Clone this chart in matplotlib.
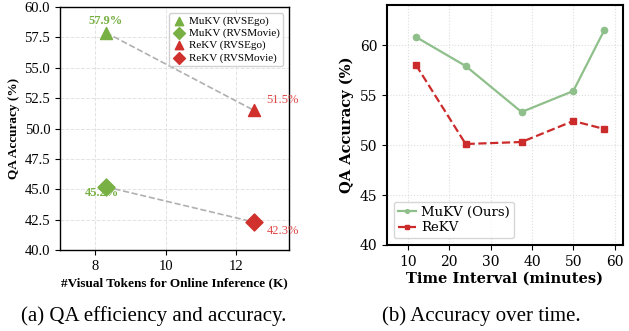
import matplotlib.pyplot as plt

# painel (a)
tokens = [8.3, 12.5]
acc_ego = [57.9, 51.5]
acc_movie = [45.2, 42.3]
metodos = ["MuKV", "ReKV"]

# painel (b)
tempo = [12, 24, 37.5, 50, 57.5]
acc_mukv = [60.8, 57.9, 53.3, 55.4, 61.5]
acc_rekv = [58.0, 50.1, 50.3, 52.4, 51.6]

verde = "#78b044"
vermelho = "#d0312d"
verde_b = "#8fbf8a"
vermelho_b = "#cc2b2b"

fig = plt.figure(figsize=(6.29, 3.31), dpi=100)
W, H = 629, 331

# ---------- (a) ----------
ax1 = fig.add_axes([60 / W, 1 - 250 / H, 229 / W, 243 / H])
serif = "Liberation Serif"
ax1.plot(tokens, acc_ego, ls="--", color="#b0b0b0", lw=1.2, zorder=1)
ax1.plot(tokens, acc_movie, ls="--", color="#b0b0b0", lw=1.2, zorder=1)
cores = [verde, vermelho]
for i, m in enumerate(metodos):
    ax1.scatter(tokens[i], acc_ego[i], marker="^", s=75, color=cores[i],
                label=f"{m} (RVSEgo)", zorder=3)
for i, m in enumerate(metodos):
    ax1.scatter(tokens[i], acc_movie[i], marker="D", s=75, color=cores[i],
                label=f"{m} (RVSMovie)", zorder=3)
# reordena legenda: MuKV ego, MuKV movie, ReKV ego, ReKV movie
h, l = ax1.get_legend_handles_labels()
ordem = [0, 2, 1, 3]
ax1.legend([h[k] for k in ordem], [l[k] for k in ordem], loc="upper right",
           prop={"family": serif, "size": 8}, handletextpad=0.3,
           borderpad=0.3, labelspacing=0.2, handlelength=1.2,
           markerscale=0.7, framealpha=0.9)

ax1.annotate(f"{acc_ego[0]}%", (tokens[0], acc_ego[0]), xytext=(0, 4),
             textcoords="offset points", ha="center", va="bottom",
             color=verde, fontsize=9, fontweight="bold", family=serif)
ax1.annotate(f"{acc_movie[0]}%", (tokens[0], acc_movie[0]), xytext=(-3, 0),
             textcoords="offset points", ha="center", va="top",
             color=verde, fontsize=9, fontweight="bold", family=serif)
ax1.annotate(f"{acc_ego[1]}%", (tokens[1], acc_ego[1]), xytext=(9, 3),
             textcoords="offset points", ha="left", va="bottom",
             color="#e04848", fontsize=9, family=serif)
ax1.annotate(f"{acc_movie[1]}%", (tokens[1], acc_movie[1]), xytext=(9, -2),
             textcoords="offset points", ha="left", va="top",
             color="#e04848", fontsize=9, family=serif)

ax1.set_xlim(7, 13.5)
ax1.set_ylim(40, 60)
ax1.set_xticks([8, 10, 12])
ax1.set_yticks([40, 42.5, 45, 47.5, 50, 52.5, 55, 57.5, 60])
ax1.set_yticklabels([f"{v:.1f}" for v in ax1.get_yticks()])
ax1.grid(True, ls="--", color="#e3e3e3", lw=0.7)
ax1.set_axisbelow(True)
for lab in ax1.get_xticklabels() + ax1.get_yticklabels():
    lab.set_family(serif)
    lab.set_fontsize(10.5)
ax1.set_xlabel("#Visual Tokens for Online Inference (K)", family=serif,
               fontsize=9.5, fontweight="bold", labelpad=3)
ax1.set_ylabel("QA Accuracy (%)", family=serif, fontsize=9.5,
               fontweight="bold", labelpad=3)
for s in ax1.spines.values():
    s.set_linewidth(1.0)

# ---------- (b) ----------
ax2 = fig.add_axes([387 / W, 1 - 245 / H, 236 / W, 240 / H])
dserif = "DejaVu Serif"
ax2.plot(tempo, acc_mukv, "-o", color=verde_b, lw=1.6, ms=4.5, label="MuKV (Ours)")
ax2.plot(tempo, acc_rekv, "--s", color=vermelho_b, lw=1.6, ms=4.5, label="ReKV")
ax2.set_xlim(5, 62)
ax2.set_ylim(40, 64)
ax2.set_xticks([10, 20, 30, 40, 50, 60])
ax2.set_yticks([40, 45, 50, 55, 60])
ax2.grid(True, ls=":", color="#dddddd", lw=0.8)
ax2.set_axisbelow(True)
for lab in ax2.get_xticklabels() + ax2.get_yticklabels():
    lab.set_family(dserif)
    lab.set_fontsize(10)
ax2.set_xlabel("Time Interval (minutes)", family=dserif, fontsize=10.5,
               fontweight="bold", labelpad=2)
ax2.set_ylabel("QA Accuracy (%)", family=dserif, fontsize=10.5,
               fontweight="bold")
for s in ax2.spines.values():
    s.set_linewidth(1.5)
ax2.legend(loc="lower left", prop={"family": dserif, "size": 9.5},
           handlelength=1.4, handletextpad=0.4, borderpad=0.3,
           labelspacing=0.2, markerscale=0.6)

# legendas das figuras
fig.text(154 / W, 1 - 316 / H, "(a) QA efficiency and accuracy.", ha="center",
         va="center", family=serif, fontsize=15)
fig.text(481 / W, 1 - 316 / H, "(b) Accuracy over time.", ha="center",
         va="center", family=serif, fontsize=15)

fig.savefig("out.png", dpi=100)
